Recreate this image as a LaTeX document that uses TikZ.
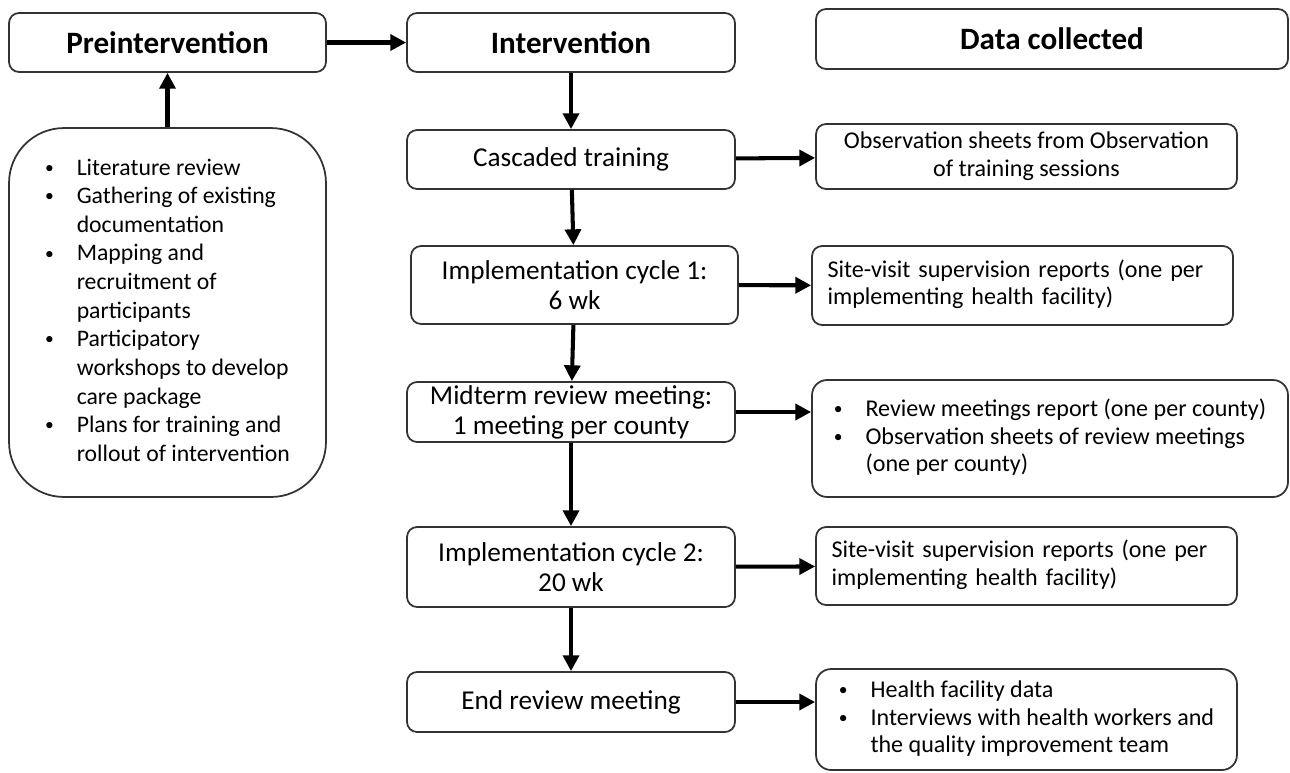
\documentclass[tikz,border=0pt]{standalone}
\usepackage{fontspec}
\setmainfont{Carlito}
\usetikzlibrary{arrows.meta}

\newcommand{\dotitem}{\raisebox{0.08em}{\fontsize{10}{10}\selectfont\textbullet}}

\begin{document}
\begin{tikzpicture}[
  x=0.02cm, y=-0.02cm,
  box/.style={draw=black!80, line width=1pt, rounded corners=0.2cm, align=center,
              inner xsep=2pt, inner ysep=0pt},
  head/.style={box, font=\fontsize{17.7}{21}\selectfont\bfseries, minimum height=1.18cm},
  stage/.style={box, font=\fontsize{15.5}{17}\selectfont, minimum width=6.56cm},
  collbox/.style={box, font=\fontsize{13.7}{15.8}\selectfont, minimum width=8.42cm},
  arr/.style={-{Triangle[length=9pt, width=9pt]}, line width=2.3pt, black},
]
\useasboundingbox (0,0) rectangle (1290,772);
% column headings
\node[head, minimum width=6.34cm] (pre) at (167.5,42.5) {Preintervention};
\node[head, minimum width=6.56cm] (int) at (571,42.5) {Intervention};
\node[head, minimum width=9.44cm, minimum height=1.2cm] (data) at (1052,39) {Data collected};
% preintervention activities
\node[box, rounded corners=1.1cm, minimum width=6.34cm, minimum height=7.38cm,
      font=\fontsize{13.5}{16.3}\selectfont] (lit) at (167.5,312.5)
  {\raisebox{-7pt}{\begin{tabular}{@{}l@{\hspace{13pt}}l@{}}
   \dotitem & Literature review\\
   \dotitem & Gathering of existing\\
            & documentation\\
   \dotitem & Mapping and\\
            & recruitment of\\
            & participants\\
   \dotitem & Participatory\\
            & workshops to develop\\
            & care package\\
   \dotitem & Plans for training and\\
            & rollout of intervention
   \end{tabular}}};
% intervention steps (middle column)
\node[stage, minimum height=1.18cm] (casc) at (571,159.5) {Cascaded training};
\node[stage, minimum width=6.54cm, minimum height=1.56cm] (impl1) at (574.5,285)
  {Implementation cycle 1:\\6 wk};
\node[stage, minimum height=1.2cm] (mid) at (571,412)
  {Midterm review meeting:\\1 meeting per county};
\node[stage, minimum height=1.6cm] (impl2) at (571,567)
  {Implementation cycle 2:\\20 wk};
\node[stage, minimum height=1.2cm] (endr) at (571,702) {End review meeting};
% data collected (right column)
\node[collbox, minimum height=1.3cm] (obs) at (1026.5,156.5)
  {Observation sheets from Observation\\of training sessions};
\node[collbox, minimum height=1.58cm, text width=7.8cm, align=left] (site1) at (1022.5,285.5)
  {\begin{tabular}{@{}l@{}}
   Site-visit supervision reports (one per\\
   implementing health facility)
   \end{tabular}};
\node[collbox, rounded corners=0.3cm, minimum width=9.52cm, minimum height=2.34cm] (rev) at (1050,438.5)
  {\begin{tabular}{@{}l@{\hspace{13pt}}l@{}}
   \dotitem & Review meetings report (one per county)\\
   \dotitem & Observation sheets of review meetings\\
            & (one per county)
   \end{tabular}};
\node[collbox, minimum height=1.56cm, text width=7.8cm, align=left] (site2) at (1026.5,566)
  {\begin{tabular}{@{}l@{}}
   Site-visit supervision reports (one per\\
   implementing health facility)
   \end{tabular}};
\node[collbox, rounded corners=0.3cm, minimum height=2.02cm] (fin) at (1026.5,719.5)
  {\begin{tabular}{@{}l@{\hspace{13pt}}l@{}}
   \dotitem & Health facility data\\
   \dotitem & Interviews with health workers and\\
            & the quality improvement team
   \end{tabular}};
% arrows
\draw[arr] (lit) -- (pre);
\draw[arr] (pre) -- (int);
\draw[arr] (int) -- (casc);
\draw[arr] (casc) -- (impl1);
\draw[arr] (impl1) -- (mid);
\draw[arr] (mid) -- (impl2);
\draw[arr] (impl2) -- (endr);
\draw[arr] (casc) -- (obs);
\draw[arr] (impl1) -- (site1);
\draw[arr] (mid.east) -- (mid.east -| rev.west);
\draw[arr] (impl2) -- (site2);
\draw[arr] (endr.east) -- (endr.east -| fin.west);
\end{tikzpicture}
\end{document}
